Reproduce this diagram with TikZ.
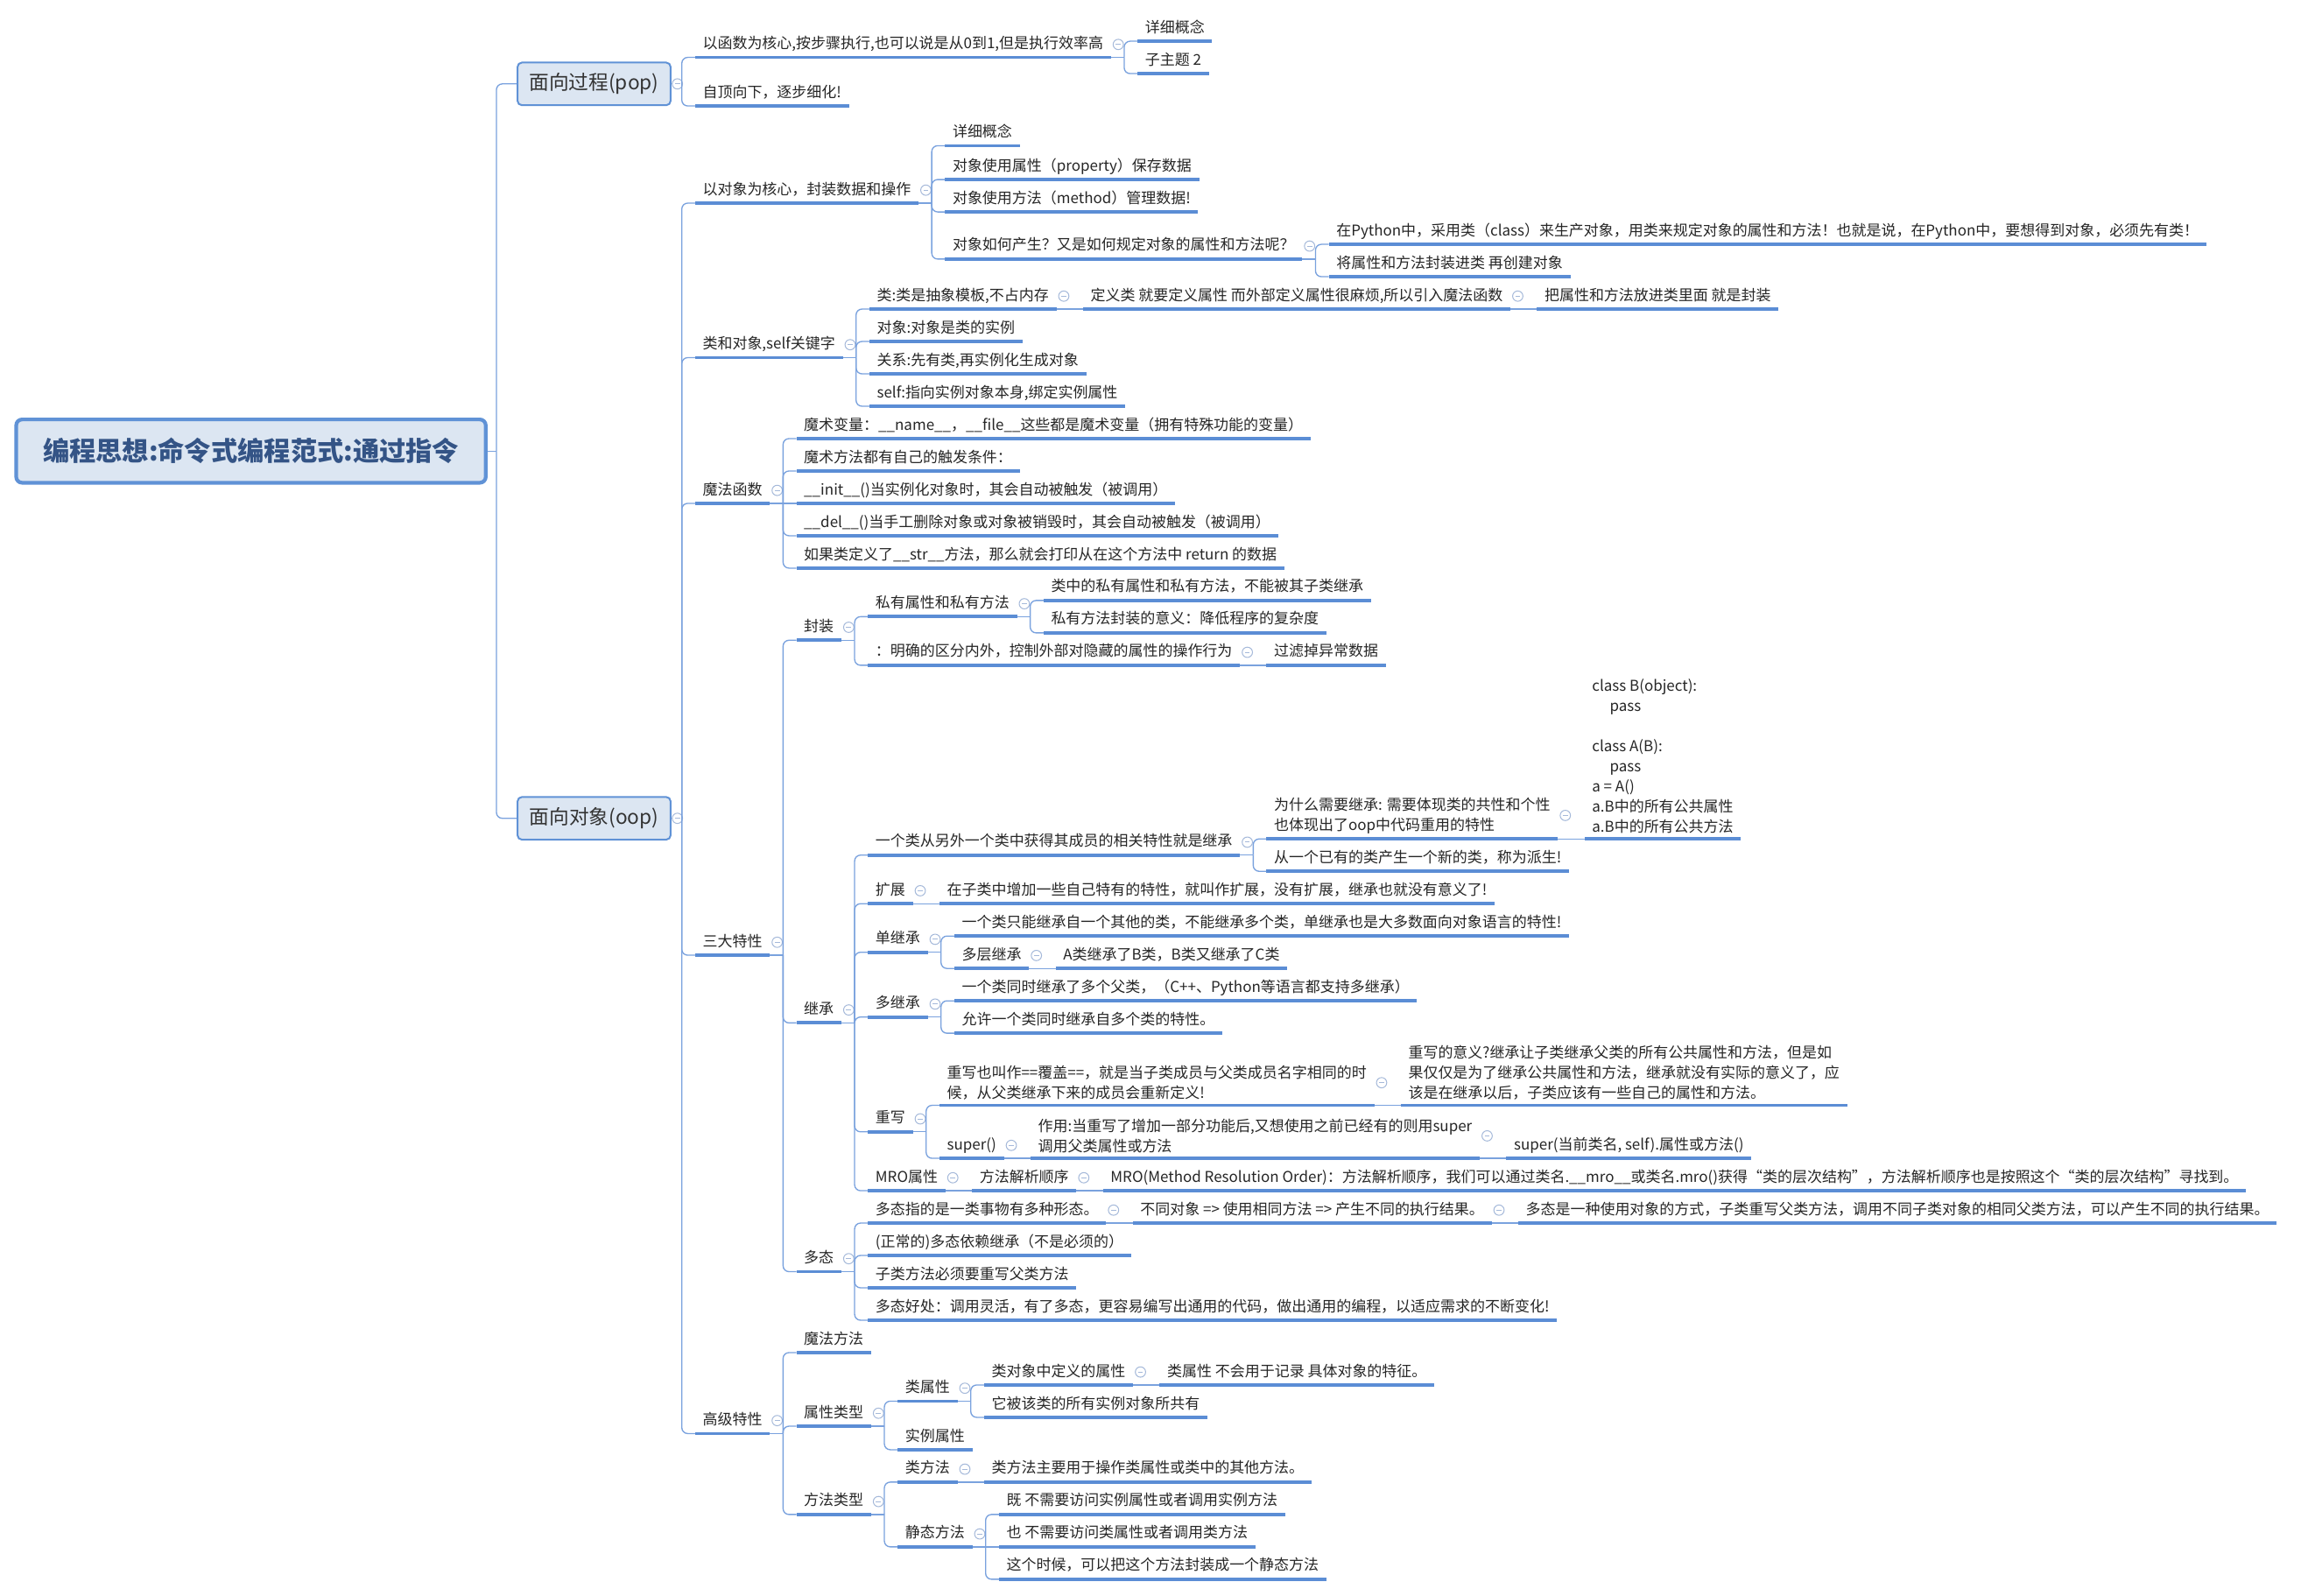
\documentclass[tikz,border=0pt]{standalone}
\usepackage{fontspec}
\setmainfont{Noto Sans CJK SC}
\definecolor{ulblue}{RGB}{91,141,213}
\definecolor{linkblue}{RGB}{122,162,222}
\definecolor{boxfill}{RGB}{220,230,242}
\definecolor{boxedge}{RGB}{96,146,214}
\definecolor{roottext}{RGB}{52,84,134}
\definecolor{foldgrey}{RGB}{165,185,218}
\tikzset{
  topicbase/.style={
    anchor=south west,
    inner xsep=5pt,
    inner ysep=3.5pt,
    xshift=9pt,
    font=\fontsize{10.1}{13.7}\selectfont,
    text=black!85,
  },
  topic/.style={
    topicbase,
    text height=8pt,
    text depth=2.2pt,
  },
  note/.style={
    topicbase,
    align=left,
  },
  uline/.style={
    draw=ulblue,
    line width=2.3pt,
  },
  link/.style={
    draw=linkblue,
    line width=0.8pt,
    rounded corners=4pt,
  },
  foldmark/.style={
    circle,
    draw=foldgrey,
    fill=white,
    line width=0.6pt,
    minimum size=7pt,
    inner sep=0pt,
    path picture={\draw[foldgrey, line width=0.6pt]
      ([xshift=1.8pt]path picture bounding box.west) --
      ([xshift=-1.8pt]path picture bounding box.east);},
  },
  mainbox/.style={
    draw=boxedge,
    line width=1.2pt,
    fill=boxfill,
    rounded corners=3pt,
    anchor=west,
    minimum width=104pt,
    minimum height=29pt,
    font=\fontsize{13.5}{16}\selectfont,
    text=black!80,
  },
  rootbox/.style={
    draw=boxedge,
    line width=2.5pt,
    fill=boxfill,
    rounded corners=4pt,
    minimum width=319pt,
    minimum height=43pt,
    font=\fontsize{18}{21}\selectfont\bfseries,
    text=roottext,
  }
}
% topic below a spine point, at its own height
\newcommand{\topic}[5][topic]{%
  \node[#1] (#2) at (#3 |- 0,#4) {#5};
  \draw[uline] (#2.south west) -- (#2.south east);
  \draw[link] (#3) |- (#2.south west);
}
% topic on the same line as its parent
\newcommand{\chain}[4][topic]{%
  \node[#1] (#2) at (#3) {#4};
  \draw[uline] (#2.south west) -- (#2.south east);
  \draw[link] (#3) -- (#2.south west);
}
\newcommand{\fold}[1]{%
  \coordinate (#1S) at ([xshift=9pt]#1.south east);
  \draw[link] (#1.south east) -- (#1S);
  \node[foldmark] (#1F) at ([xshift=5pt]#1.east) {};
}
\newcommand{\boxfold}[1]{%
  \coordinate (#1S) at ([xshift=7pt]#1.east);
  \draw[link] (#1.east) -- (#1S);
  \node[foldmark] (#1F) at ([xshift=4pt]#1.east) {};
}

\begin{document}
\begin{tikzpicture}[x=1pt, y=-1pt]
\useasboundingbox[fill=white] (0,0) rectangle (1568,1084);

\node[rootbox] (root) at (170.5,306.5) {编程思想:命令式编程范式:通过指令};
\coordinate (rootS) at ([xshift=6pt]root.east);
\draw[link] (root.east) -- (rootS);
\node[mainbox] (pop) at (351,57) {面向过程(pop)};
\node[mainbox] (oop) at (351,556) {面向对象(oop)};
\draw[link] (rootS) |- (pop.west);
\draw[link] (rootS) |- (oop.west);
\boxfold{pop}
\boxfold{oop}

% pop
\topic{popfunc}{popS}{39}{以函数为核心,按步骤执行,也可以说是从0到1,但是执行效率高}
\fold{popfunc}
\topic{popdetail}{popfuncS}{28}{详细概念}
\topic{popsub}{popfuncS}{50}{子主题 2}
\topic{poptop}{popS}{72}{自顶向下，逐步细化!}

% oop
\topic{oopcore}{oopS}{138}{以对象为核心，封装数据和操作}
\fold{oopcore}
\topic{coredetail}{oopcoreS}{99}{详细概念}
\topic{coreprop}{oopcoreS}{122}{对象使用属性（property）保存数据}
\topic{coremethod}{oopcoreS}{144}{对象使用方法（method）管理数据!}
\topic{corehow}{oopcoreS}{176}{对象如何产生？又是如何规定对象的属性和方法呢？}
\fold{corehow}
\topic{howpy}{corehowS}{166}{在Python中，采用类（class）来生产对象，用类来规定对象的属性和方法！也就是说，在Python中，要想得到对象，必须先有类！}
\topic{howpack}{corehowS}{188}{将属性和方法封装进类 再创建对象}

\topic{cls}{oopS}{243}{类和对象,self关键字}
\fold{cls}
\topic{clstpl}{clsS}{210}{类:类是抽象模板,不占内存}
\fold{clstpl}
\chain{clsdef}{clstplS}{定义类 就要定义属性 而外部定义属性很麻烦,所以引入魔法函数}
\fold{clsdef}
\chain{clspack}{clsdefS}{把属性和方法放进类里面 就是封装}
\topic{clsobj}{clsS}{232}{对象:对象是类的实例}
\topic{clsrel}{clsS}{254}{关系:先有类,再实例化生成对象}
\topic{clsself}{clsS}{276}{self:指向实例对象本身,绑定实例属性}

\topic{magic}{oopS}{342}{魔法函数}
\fold{magic}
\topic{magvar}{magicS}{298}{魔术变量：\_\_name\_\_，\_\_file\_\_这些都是魔术变量（拥有特殊功能的变量）}
\topic{magcond}{magicS}{320}{魔术方法都有自己的触发条件：}
\chain{maginit}{magicS}{\_\_init\_\_()当实例化对象时，其会自动被触发（被调用）}
\topic{magdel}{magicS}{364}{\_\_del\_\_()当手工删除对象或对象被销毁时，其会自动被触发（被调用）}
\topic{magstr}{magicS}{386}{如果类定义了\_\_str\_\_方法，那么就会打印从在这个方法中 return 的数据}

% three features
\topic{three}{oopS}{649}{三大特性}
\fold{three}
\topic{enc}{threeS}{435}{封装}
\fold{enc}
\topic{encpriv}{encS}{419}{私有属性和私有方法}
\fold{encpriv}
\topic{encnoinh}{encprivS}{408}{类中的私有属性和私有方法，不能被其子类继承}
\topic{encmean}{encprivS}{430}{私有方法封装的意义：降低程序的复杂度}
\topic{encsep}{encS}{452}{：明确的区分内外，控制外部对隐藏的属性的操作行为}
\fold{encsep}
\chain{encfilter}{encsepS}{过滤掉异常数据}

\topic{inh}{threeS}{695}{继承}
\fold{inh}
\topic{inhdef}{inhS}{581}{一个类从另外一个类中获得其成员的相关特性就是继承}
\fold{inhdef}
\topic[note]{inhwhy}{inhdefS}{570}{为什么需要继承: 需要体现类的共性和个性\\也体现出了oop中代码重用的特性}
\fold{inhwhy}
\chain[note]{inhcode}{inhwhyS}{class B(object):\\\hspace*{12pt}pass\\[13.7pt]class A(B):\\\hspace*{12pt}pass\\a = A()\\a.B中的所有公共属性\\a.B中的所有公共方法}
\topic{inhderive}{inhdefS}{592}{从一个已有的类产生一个新的类，称为派生!}
\topic{inhext}{inhS}{614}{扩展}
\fold{inhext}
\chain{extdesc}{inhextS}{在子类中增加一些自己特有的特性，就叫作扩展，没有扩展，继承也就没有意义了!}
\topic{inhsingle}{inhS}{647}{单继承}
\fold{inhsingle}
\topic{singleonly}{inhsingleS}{636}{一个类只能继承自一个其他的类，不能继承多个类，单继承也是大多数面向对象语言的特性!}
\topic{singlelayer}{inhsingleS}{658}{多层继承}
\fold{singlelayer}
\chain{layerdesc}{singlelayerS}{A类继承了B类，B类又继承了C类}
\topic{inhmany}{inhS}{691}{多继承}
\fold{inhmany}
\topic{manydesc}{inhmanyS}{680}{一个类同时继承了多个父类，（C++、Python等语言都支持多继承）}
\topic{manyallow}{inhmanyS}{702}{允许一个类同时继承自多个类的特性。}
\topic{inhover}{inhS}{769}{重写}
\fold{inhover}
\topic[note]{overdesc}{inhoverS}{751}{重写也叫作==覆盖==，就是当子类成员与父类成员名字相同的时\\候，从父类继承下来的成员会重新定义!}
\fold{overdesc}
\chain[note]{overmean}{overdescS}{重写的意义?继承让子类继承父类的所有公共属性和方法，但是如\\果仅仅是为了继承公共属性和方法，继承就没有实际的意义了，应\\该是在继承以后，子类应该有一些自己的属性和方法。}
\topic{oversuper}{inhoverS}{787}{super()}
\fold{oversuper}
\chain[note]{supernote}{oversuperS}{作用:当重写了增加一部分功能后,又想使用之前已经有的则用super\\调用父类属性或方法}
\fold{supernote}
\chain{supercall}{supernoteS}{super(当前类名, self).属性或方法()}
\topic{inhmro}{inhS}{809}{MRO属性}
\fold{inhmro}
\chain{mroorder}{inhmroS}{方法解析顺序}
\fold{mroorder}
\chain{mrodesc}{mroorderS}{MRO(Method Resolution Order)：方法解析顺序，我们可以通过类名.\_\_mro\_\_或类名.mro()获得“类的层次结构”，方法解析顺序也是按照这个“类的层次结构”寻找到。}

\topic{poly}{threeS}{864}{多态}
\fold{poly}
\topic{polydef}{polyS}{831}{多态指的是一类事物有多种形态。}
\fold{polydef}
\chain{polysame}{polydefS}{不同对象 => 使用相同方法 => 产生不同的执行结果。}
\fold{polysame}
\chain{polyway}{polysameS}{多态是一种使用对象的方式，子类重写父类方法，调用不同子类对象的相同父类方法，可以产生不同的执行结果。}
\topic{polydep}{polyS}{853}{(正常的)多态依赖继承（不是必须的）}
\topic{polymust}{polyS}{875}{子类方法必须要重写父类方法}
\topic{polygood}{polyS}{897}{多态好处：调用灵活，有了多态，更容易编写出通用的代码，做出通用的编程，以适应需求的不断变化!}

% advanced
\topic{adv}{oopS}{974}{高级特性}
\fold{adv}
\topic{advmagic}{advS}{919}{魔法方法}
\topic{advattr}{advS}{969}{属性类型}
\fold{advattr}
\topic{attrcls}{advattrS}{952}{类属性}
\fold{attrcls}
\topic{clsattrdef}{attrclsS}{941}{类对象中定义的属性}
\fold{clsattrdef}
\chain{clsattrnote}{clsattrdefS}{类属性 不会用于记录 具体对象的特征。}
\topic{clsattrshare}{attrclsS}{963}{它被该类的所有实例对象所共有}
\topic{attrinst}{advattrS}{985}{实例属性}
\topic{advmeth}{advS}{1029}{方法类型}
\fold{advmeth}
\topic{methcls}{advmethS}{1007}{类方法}
\fold{methcls}
\chain{methclsdesc}{methclsS}{类方法主要用于操作类属性或类中的其他方法。}
\topic{methstatic}{advmethS}{1051}{静态方法}
\fold{methstatic}
\topic{statica}{methstaticS}{1029}{既 不需要访问实例属性或者调用实例方法}
\chain{staticb}{methstaticS}{也 不需要访问类属性或者调用类方法}
\topic{staticc}{methstaticS}{1073}{这个时候，可以把这个方法封装成一个静态方法}

\end{tikzpicture}
\end{document}
